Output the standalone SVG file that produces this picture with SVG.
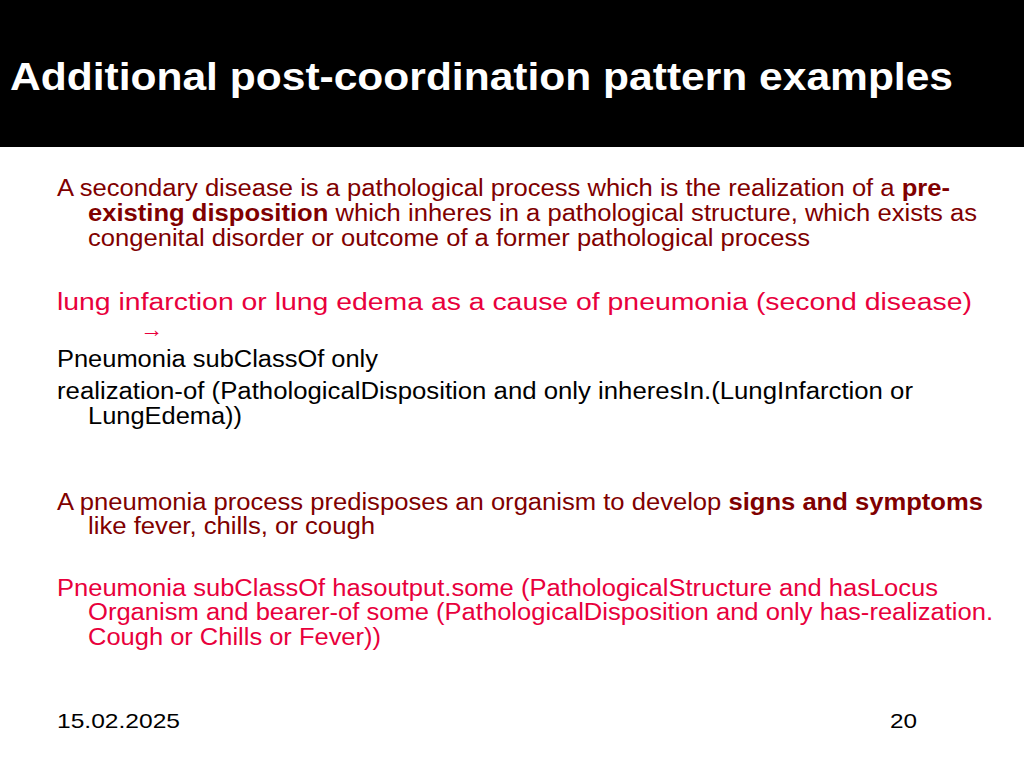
<svg xmlns="http://www.w3.org/2000/svg" width="1024" height="768" viewBox="0 0 1024 768">
<style>
text{font-family:"Liberation Sans",Arial,sans-serif}
.d{fill:#800000;font-size:23px}
.r{fill:#e8003c;font-size:23px}
.k{fill:#000;font-size:23px}
.b{font-weight:bold}
</style>
<rect width="1024" height="768" fill="#fff"/>
<rect width="1024" height="147" fill="#000"/>
<text x="10" y="90" fill="#fff" font-size="38" font-weight="bold" textLength="943" lengthAdjust="spacingAndGlyphs">Additional post-coordination pattern examples</text>
<text class="d" x="57" y="196" textLength="893" lengthAdjust="spacingAndGlyphs">A secondary disease is a pathological process which is the realization of a <tspan class="b">pre-</tspan></text>
<text class="d" x="88" y="221" textLength="889" lengthAdjust="spacingAndGlyphs"><tspan class="b">existing disposition</tspan> which inheres in a pathological structure, which exists as</text>
<text class="d" x="88" y="246" textLength="722" lengthAdjust="spacingAndGlyphs">congenital disorder or outcome of a former pathological process</text>
<text class="r" x="57" y="310" font-size="26" textLength="915" lengthAdjust="spacingAndGlyphs">lung infarction or lung edema as a cause of pneumonia (second disease)</text>
<text class="r" x="140" y="337" font-size="20">→</text>
<text class="k" x="57" y="367" textLength="321" lengthAdjust="spacingAndGlyphs">Pneumonia subClassOf only</text>
<text class="k" x="57" y="399" textLength="856" lengthAdjust="spacingAndGlyphs">realization-of (PathologicalDisposition and  only inheresIn.(LungInfarction or</text>
<text class="k" x="88" y="424" textLength="154" lengthAdjust="spacingAndGlyphs">LungEdema))</text>
<text class="d" x="57" y="510" textLength="926" lengthAdjust="spacingAndGlyphs">A pneumonia process predisposes an organism to develop <tspan class="b">signs and symptoms</tspan></text>
<text class="d" x="88" y="534" textLength="287" lengthAdjust="spacingAndGlyphs">like fever, chills, or cough</text>
<text class="r" x="57" y="596" textLength="881" lengthAdjust="spacingAndGlyphs">Pneumonia subClassOf hasoutput.some (PathologicalStructure and hasLocus</text>
<text class="r" x="88" y="620" textLength="905" lengthAdjust="spacingAndGlyphs">Organism and bearer-of some (PathologicalDisposition and only has-realization.</text>
<text class="r" x="88" y="645" textLength="293" lengthAdjust="spacingAndGlyphs">Cough or Chills or Fever))</text>
<text x="57" y="728" font-size="21" fill="#000" textLength="123" lengthAdjust="spacingAndGlyphs">15.02.2025</text>
<text x="890" y="728" font-size="21" fill="#000" textLength="27" lengthAdjust="spacingAndGlyphs">20</text>
</svg>
